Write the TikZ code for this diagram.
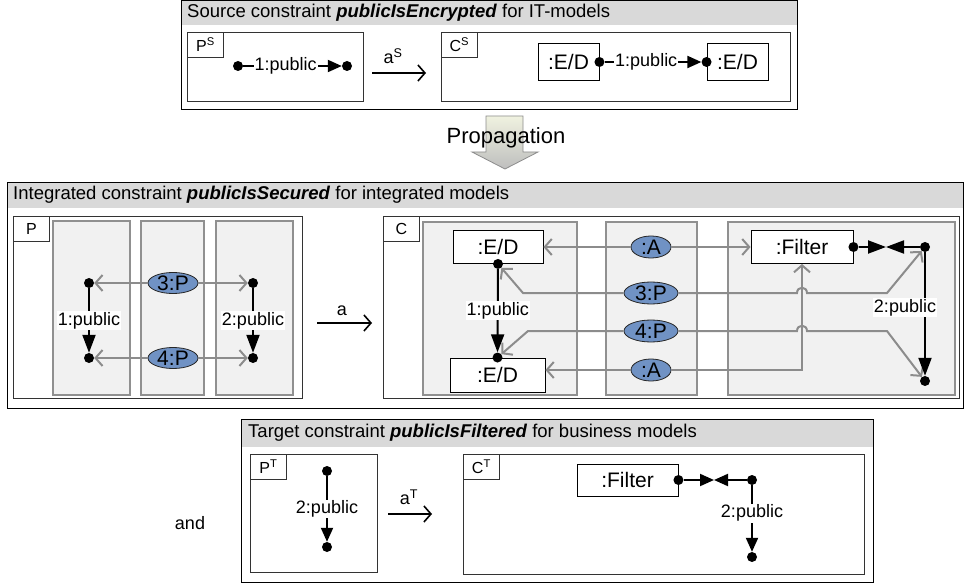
\documentclass[tikz,border=0pt]{standalone}
\usepackage{fontspec}
\setmainfont{Liberation Sans}
\usetikzlibrary{arrows.meta,shapes.geometric,shadows}
\definecolor{hdrgray}{HTML}{D9D9D9}
\definecolor{colfill}{HTML}{F1F1F1}
\definecolor{colline}{HTML}{909090}
\definecolor{ellfill}{HTML}{7092C4}
\definecolor{garrow}{HTML}{8C8C8C}
\newcommand\fsH{\fontsize{18.5}{20}\selectfont}
\newcommand\fsN{\fontsize{21}{23}\selectfont}
\newcommand\fsL{\fontsize{18}{20}\selectfont}
\newcommand\fsT{\fontsize{16}{18}\selectfont}
\begin{document}
\begin{tikzpicture}[x=1pt,y=-1pt,
  outer/.style={draw=black,line width=0.9pt},
  band/.style={fill=hdrgray},
  hdr/.style={anchor=west,inner sep=0,font=\fsH},
  inbox/.style={draw=black!80,line width=0.9pt,fill=white,
    drop shadow={shadow xshift=1.3pt,shadow yshift=-1.3pt,fill=black!60,opacity=0.6}},
  colbox/.style={draw=colline,line width=1.1pt,fill=colfill},
  tag/.style={draw=black!80,line width=0.8pt,fill=white,anchor=north west,
    minimum width=36pt,minimum height=25pt,inner sep=0,font=\fsT},
  dot/.style={circle,fill=black,inner sep=0,minimum size=10pt},
  obj/.style={draw=black,line width=0.9pt,fill=white,inner sep=0,font=\fsN},
  ell/.style={ellipse,draw=black!85,fill=ellfill,line width=0.8pt,inner sep=0,
    minimum width=40pt,minimum height=22pt,font=\fsN},
  blk/.style={line width=2pt,-{Triangle[length=18pt,width=13pt]}},
  blks/.style={line width=2pt,-{Triangle[length=14pt,width=12pt]}},
  gry/.style={draw=garrow,line width=2pt,-{Straight Barb[length=7pt,width=16pt]}},
  morph/.style={line width=1.6pt,-{Straight Barb[length=7pt,width=16pt]}},
  elab/.style={fill=white,inner sep=1pt,font=\fsL},
  txt/.style={inner sep=0,font=\fsL}]
\useasboundingbox (0,0) rectangle (966,585);

% ---------------- top panel ----------------
\fill[band] (181,0.5) rectangle (797,25);
\draw[outer] (181,0.5) rectangle (797,109);
\node[hdr] (hs) at (187,13) {Source constraint \textbf{\textit{publicIsEncrypted}} for IT-models};

\draw[inbox] (187,32) rectangle (363,101);
\node[tag] (tps) at (187,32) {P\textsuperscript{S}};
\node[dot] (ps1) at (238,66) {};
\node[dot] (ps2) at (347,66) {};
\draw[blks] (ps1) -- node[elab,pos=0.43]{1:public} (ps2);

\coordinate (msA) at (372,73);
\coordinate (msB) at (426,73);
\draw[morph] (msA) -- (msB);
\node[txt] (las) at (393,56) {a\textsuperscript{S}};

\draw[inbox] (441,32) rectangle (790,101);
\node[tag] (tcs) at (441,32) {C\textsuperscript{S}};
\node[obj,minimum width=61pt,minimum height=37pt] (ed1s) at (568.5,62) {:E/D};
\node[obj,minimum width=61pt,minimum height=37pt] (ed2s) at (737.5,62) {:E/D};
\node[dot] (cs1) at (ed1s.east) {};
\node[dot] (cs2) at (ed2s.west) {};
\draw[blks] (cs1) -- node[elab,pos=0.43]{1:public} (cs2);

% ---------------- propagation ----------------
\shadedraw[draw=black!45,line width=0.8pt,top color={rgb,255:red,240;green,242;blue,224},
  bottom color={rgb,255:red,190;green,190;blue,190}]
  (486,116) -- (523,116) -- (523,152) -- (538,152) -- (505,169) -- (472,152) -- (486,152) -- cycle;
\node[inner sep=0,font=\fontsize{22}{24}\selectfont] (prop) at (506,138) {Propagation};

% ---------------- middle panel ----------------
\fill[band] (7,182) rectangle (963,208);
\draw[outer] (7,182) rectangle (963,408);
\node[hdr] (hi) at (13,195) {Integrated constraint \textbf{\textit{publicIsSecured}} for integrated models};

\draw[inbox] (13,216) rectangle (302,398);
\draw[colbox] (53,221) rectangle (130,395);
\draw[colbox] (141,221) rectangle (204,395);
\draw[colbox] (216,221) rectangle (293,395);
\node[tag] (tp) at (13,216) {P};
\node[dot] (d1) at (89,283) {};
\node[dot] (d2) at (89,358) {};
\node[dot] (d3) at (253,283) {};
\node[dot] (d4) at (253,358) {};
\node[ell,minimum width=50pt,minimum height=21pt] (e3) at (173,283) {3:P};
\node[ell,minimum width=50pt,minimum height=21pt] (e4) at (173,358) {4:P};
\draw[gry] (e3) -- (d1);
\draw[gry] (e3) -- (d3);
\draw[gry] (e4) -- (d2);
\draw[gry] (e4) -- (d4);
\draw[blk] (d1) -- node[elab]{1:public} (d2);
\draw[blk] (d3) -- node[elab]{2:public} (d4);

\coordinate (maA) at (317,323);
\coordinate (maB) at (372,323);
\draw[morph] (maA) -- (maB);
\node[txt] (la) at (342,311) {a};

\draw[inbox] (383,216) rectangle (959,398);
\draw[colbox] (423,222) rectangle (577,395);
\draw[colbox] (606,222) rectangle (697,395);
\draw[colbox] (728,222) rectangle (955,395);
\node[tag] (tc) at (383,216) {C};
\node[obj,minimum width=90pt,minimum height=33pt] (edt) at (498,247) {:E/D};
\node[obj,minimum width=95pt,minimum height=34pt] (edb) at (497.5,375) {:E/D};
\node[dot] (edtd) at (edt.south) {};
\node[dot] (edbd) at (edb.north) {};
\node[obj,minimum width=102pt,minimum height=33pt] (filt) at (802,247) {:Filter};
\node[dot] (fd) at (filt.east) {};
\node[dot] (rd) at (925,247) {};
\node[dot] (bd) at (925,381) {};
\coordinate (fm) at (886,247);
\node[ell] (at) at (651,247) {:A};
\node[ell,minimum width=54pt] (p3) at (651,293) {3:P};
\node[ell,minimum width=54pt] (p4) at (651,331) {4:P};
\node[ell] (ab) at (651,370) {:A};

\draw[gry] (at) -- (edt);
\draw[gry] (at) -- (filt);
\draw[gry] (ab) -- (ab -| edb.east);
\draw[gry] (ab) -| (filt);
\draw[gry] (p3) -- (523,293) -- (edtd);
\draw[gry] (p3) -- (797,293) .. controls (797,286) and (807,286) .. (807,293) -- (887,293) -- (rd);
\draw[gry] (p4) -- (528,331) -- (edbd);
\draw[gry] (p4) -- (797,331) .. controls (797,324) and (807,324) .. (807,331) -- (887,331) -- (bd);

\draw[blk] (edtd) -- node[elab]{1:public} (edbd);
\draw[blk] (fd) -- (fm);
\draw[blk] (rd) -- (fm);
\draw[blk] (rd) -- node[elab,xshift=-20pt,pos=0.45]{2:public} (bd);

% ---------------- bottom panel ----------------
\node[txt] (and) at (190,523) {and};

\fill[band] (241,419) rectangle (873,447);
\draw[outer] (241,419) rectangle (873,582);
\node[hdr] (ht) at (248,433) {Target constraint \textbf{\textit{publicIsFiltered}} for business models};

\draw[inbox] (250,454) rectangle (377,572);
\node[tag] (tpt) at (250,454) {P\textsuperscript{T}};
\node[dot] (pt1) at (327,471) {};
\node[dot] (pt2) at (327,547) {};
\draw[blks] (pt1) -- node[elab]{2:public} (pt2);

\coordinate (mtA) at (388,514);
\coordinate (mtB) at (432,514);
\draw[morph] (mtA) -- (mtB);
\node[txt] (lat) at (409,497) {a\textsuperscript{T}};

\draw[inbox] (463,454) rectangle (864,574);
\node[tag] (tct) at (463,454) {C\textsuperscript{T}};
\node[obj,minimum width=101pt,minimum height=32pt] (filtT) at (627.5,480) {:Filter};
\node[dot] (ft1) at (filtT.east) {};
\node[dot] (ft2) at (752,480) {};
\node[dot] (ft3) at (752,557) {};
\coordinate (ftm) at (714,480);
\draw[blks] (ft1) -- (ftm);
\draw[blks] (ft2) -- (ftm);
\draw[blks] (ft2) -- node[elab,pos=0.42]{2:public} (ft3);
\end{tikzpicture}
\end{document}
